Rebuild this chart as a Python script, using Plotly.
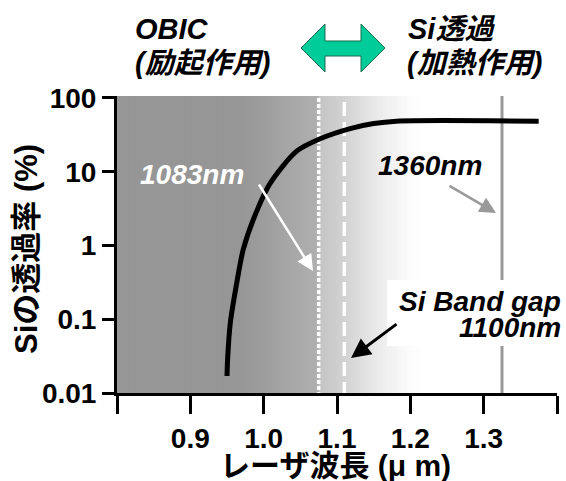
import plotly.graph_objects as go

# ---- data ----
wavelength_um = [0.950, 0.951, 0.9545, 0.964, 0.972, 0.987, 1.009, 1.045, 1.077, 1.118, 1.150, 1.181, 1.375]
transmittance_pct = [0.017, 0.031, 0.089, 0.34, 0.87, 2.4, 7.0, 19.0, 28.0, 38.5, 45.0, 48.5, 48.5]

y_tickvals = [0.01, 0.1, 1, 10, 100]
y_ticktext = ["0.01", "0.1", "1", "10", "100"]
x_tickvals = [0.8, 0.9, 1.0, 1.1, 1.2, 1.3, 1.4]
x_ticktext = ["", "0.9", "1.0", "1.1", "1.2", "1.3", ""]

line_1083 = 1.075
line_1100 = 1.11
line_1360 = 1.325

# ---- layout helpers ----
W, H = 566, 481
L, R, T, B = 117, 9, 96, 88
PW, PH = W - L - R, H - T - B
FONT = "Liberation Sans, Arial, Noto Sans CJK JP, sans-serif"


def px(x):
    return (x - L) / PW


def py(y):
    return (H - B - y) / PH


# gray gradient profile (x, gray level)
stops_a = [(0.80, 150), (0.97, 150), (1.075, 176)]
stops_b = [(1.075, 196), (1.11, 210), (1.15, 232), (1.20, 252), (1.22, 255)]


def interp(stops, x):
    for (x0, v0), (x1, v1) in zip(stops[:-1], stops[1:]):
        if x0 <= x <= x1:
            return v0 + (v1 - v0) * (x - x0) / (x1 - x0)
    return stops[-1][1]


shapes = []
step = 0.004
for stops in (stops_a, stops_b):
    xs, xe = stops[0][0], stops[-1][0]
    x = xs
    while x < xe - 1e-9:
        x2 = min(x + step, xe)
        g = int(round(interp(stops, (x + x2) / 2)))
        shapes.append(dict(type="rect", xref="x", yref="paper", x0=x, x1=x2 + 0.001, y0=0, y1=1,
                           fillcolor=f"rgb({g},{g},{g})", line=dict(width=0), layer="below"))
        x = x2

shapes.append(dict(type="line", xref="x", yref="paper", x0=line_1083, x1=line_1083, y0=-0.01, y1=1,
                   line=dict(color="white", width=3.5, dash="4px,2px"), layer="below"))
shapes.append(dict(type="line", xref="x", yref="paper", x0=line_1100, x1=line_1100, y0=-0.01, y1=1,
                   line=dict(color="white", width=3.5, dash="14px,6px"), layer="below"))
shapes.append(dict(type="line", xref="x", yref="paper", x0=line_1360, x1=line_1360, y0=0, y1=1,
                   line=dict(color="rgb(153,153,153)", width=3), layer="below"))

# white box behind band gap label
shapes.append(dict(type="rect", xref="paper", yref="paper", x0=px(387), x1=px(566), y0=py(346), y1=py(280),
                   fillcolor="white", line=dict(width=0), layer="above"))

# green double arrow
pts = [(301, 48), (325, 24), (325, 41), (361, 41), (361, 24), (385, 48),
       (361, 72), (361, 56), (325, 56), (325, 72)]
path = "M " + " L ".join(f"{px(a):.5f},{py(b):.5f}" for a, b in pts) + " Z"
shapes.append(dict(type="path", xref="paper", yref="paper", path=path,
                   fillcolor="#00cc99", line=dict(color="#1a6b50", width=1), layer="above"))

fig = go.Figure()
fig.add_trace(go.Scatter(x=wavelength_um, y=transmittance_pct, mode="lines",
                         line=dict(color="black", width=5, shape="spline", smoothing=0.8),
                         showlegend=False, hoverinfo="skip"))


def text_ann(t, x, y, xanchor="left", color="black", size=29, angle=0):
    return dict(text=t, x=px(x), y=py(y), xref="paper", yref="paper", xanchor=xanchor, yanchor="middle",
                showarrow=False, textangle=angle, font=dict(family=FONT, size=size, color=color))


def arrow_ann(tail, head, color, width):
    return dict(text="", x=px(head[0]), y=py(head[1]), xref="paper", yref="paper",
                ax=tail[0] - head[0], ay=tail[1] - head[1], axref="pixel", ayref="pixel",
                showarrow=True, arrowhead=2, arrowsize=1.3, arrowwidth=width, arrowcolor=color,
                standoff=0, startstandoff=0)


annotations = [
    text_ann("<b><i>OBIC</i></b>", 133, 29),
    text_ann("<b><i>(励起作用)</i></b>", 133, 63),
    text_ann("<b><i>Si透過</i></b>", 406, 29),
    text_ann("<b><i>(加熱作用)</i></b>", 405, 63),
    text_ann("<b><i>1083nm</i></b>", 138, 174, color="white", size=28),
    text_ann("<b><i>1360nm</i></b>", 376, 165, size=28),
    text_ann("<b><i>Si Band gap</i></b>", 563, 301, xanchor="right", size=28),
    text_ann("<b><i>1100nm</i></b>", 563, 327, xanchor="right", size=28),
    text_ann("<b>Siの透過率 (%)</b>", 26, 249, xanchor="center", angle=-90, size=31),
    text_ann("<b>レーザ波長 (μ m)</b>", 335, 466, xanchor="center", size=30),
    arrow_ann((258, 183), (313, 271), "white", 2.5),
    arrow_ann((448, 185), (496, 213), "rgb(153,153,153)", 2.5),
    arrow_ann((398, 323), (351, 358), "black", 3),
]

fig.update_layout(
    width=W, height=H,
    margin=dict(l=L, r=R, t=T, b=B, pad=0),
    paper_bgcolor="white", plot_bgcolor="white",
    shapes=shapes, annotations=annotations,
    xaxis=dict(range=[0.8, 1.4], tickvals=x_tickvals, ticktext=x_ticktext,
               ticks="outside", ticklen=18, tickwidth=3, tickcolor="black",
               showline=True, linewidth=3, linecolor="black", showgrid=False, zeroline=False,
               tickfont=dict(family=FONT, size=28, color="black", weight="bold")),
    yaxis=dict(type="log", range=[-2, 2.027], tickvals=y_tickvals, ticktext=y_ticktext,
               ticks="outside", ticklen=12, tickwidth=3, tickcolor="black",
               showline=True, linewidth=3, linecolor="black", showgrid=False, zeroline=False,
               tickfont=dict(family=FONT, size=28, color="black", weight="bold")),
)

fig.write_html("out.html", config={"displayModeBar": False},
               post_script="document.body.style.margin='0px';document.body.style.padding='0px';")
